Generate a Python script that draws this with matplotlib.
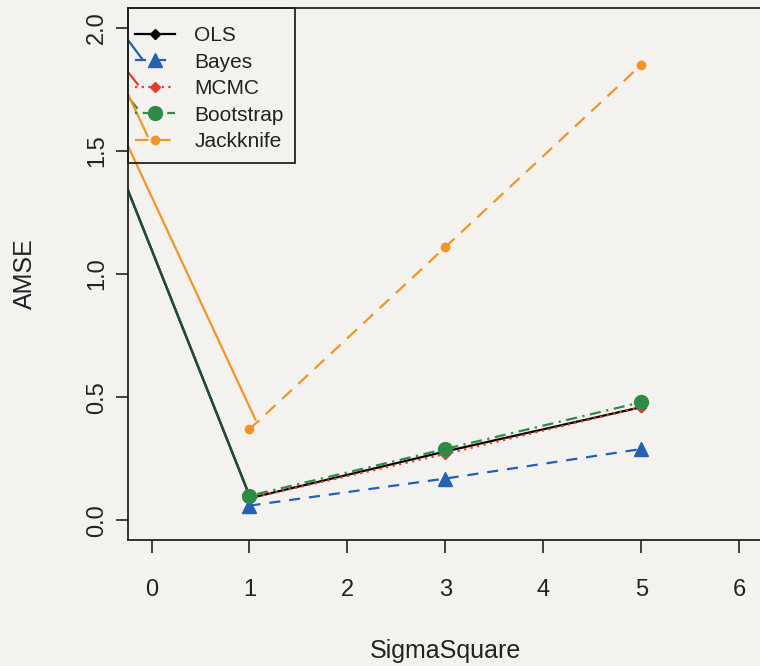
import matplotlib
matplotlib.use("Agg")
import matplotlib.pyplot as plt
from matplotlib.patches import Rectangle

plt.rcParams["font.family"] = ["Liberation Sans", "DejaVu Sans"]

# SigmaSquare values and AMSE per method
sigma_sq = [1, 3, 5]
ols = [0.09, 0.28, 0.46]
bayes = [0.06, 0.17, 0.29]
mcmc = [0.09, 0.27, 0.46]
bootstrap = [0.10, 0.29, 0.48]
jackknife = [0.37, 1.11, 1.85]

# solid lead-in segments coming in from the left edge of the panel
lead_x = [-0.24, 1.0]
lead_main_y = [1.34, 0.10]
lead_jack_x = [-0.24, 1.06]
lead_jack_y = [1.52, 0.41]

# short stubs near the top-left corner
stub_bayes_x = [-0.24, -0.09]
stub_bayes_y = [1.95, 1.87]
stub_mcmc_x = [-0.24, -0.14]
stub_mcmc_y = [1.82, 1.77]
stub_boot_x = [-0.24, -0.15]
stub_boot_y = [1.72, 1.675]
stub_jack_x = [-0.24, -0.04]
stub_jack_y = [1.73, 1.56]

x_ticks = [0, 1, 2, 3, 4, 5, 6]
y_ticks = [0.0, 0.5, 1.0, 1.5, 2.0]
y_tick_labels = ["0.0", "0.5", "1.0", "1.5", "2.0"]

bg = "#f4f2ee"
ink = "#222222"
c_ols = "black"
c_bayes = "#2460b4"
c_mcmc = "#e8392a"
c_boot = "#2e8b45"
c_jack = "#f29527"

fig = plt.figure(figsize=(7.6, 6.66), dpi=100, facecolor=bg)
ax = fig.add_axes([0.1684, 0.189, 0.8355, 0.799], facecolor=bg)

lw = 1.6

# lead-in lines
ax.plot(lead_x, lead_main_y, color=c_mcmc, lw=lw)
ax.plot(lead_x, lead_main_y, color=c_bayes, lw=lw)
ax.plot(lead_x, lead_main_y, color=c_boot, lw=lw)
ax.plot(lead_x, lead_main_y, color="#1f3a33", lw=lw, alpha=0.8)
ax.plot(lead_jack_x, lead_jack_y, color=c_jack, lw=lw)

ax.plot(stub_bayes_x, stub_bayes_y, color=c_bayes, lw=lw)
ax.plot(stub_mcmc_x, stub_mcmc_y, color=c_mcmc, lw=lw)
ax.plot(stub_boot_x, stub_boot_y, color=c_boot, lw=lw)
ax.plot(stub_jack_x, stub_jack_y, color=c_jack, lw=lw)

# main series
ax.plot(sigma_sq, ols, color=c_ols, lw=lw, ls="-", marker="D", ms=5, label="OLS")
ax.plot(sigma_sq, bayes, color=c_bayes, lw=lw, ls=(0, (5, 4)), marker="^", ms=10, label="Bayes")
ax.plot(sigma_sq, mcmc, color=c_mcmc, lw=lw, ls=(0, (1, 2)), marker="D", ms=5, label="MCMC")
ax.plot(sigma_sq, bootstrap, color=c_boot, lw=lw, ls=(0, (1, 2.5, 5, 2.5)), marker="o", ms=10, label="Bootstrap")
ax.plot(sigma_sq, jackknife, color=c_jack, lw=lw, ls=(0, (6, 4)), marker="o", ms=6, label="Jackknife")

ax.set_xlim(-0.24, 6.24)
ax.set_ylim(-0.08, 2.08)

ax.set_xticks(x_ticks)
ax.set_xticklabels([str(t) for t in x_ticks])
ax.set_yticks(y_ticks)
ax.set_yticklabels(y_tick_labels, rotation=90, va="center")
ax.tick_params(axis="both", direction="out", length=9, width=1.2, labelsize=17, colors=ink)
ax.tick_params(axis="x", pad=19)
ax.tick_params(axis="y", pad=5.5)

for s in ax.spines.values():
    s.set_linewidth(1.3)
    s.set_color(ink)

ax.set_xlabel("SigmaSquare", fontsize=18, color=ink, labelpad=27)
ax.set_ylabel("AMSE", fontsize=18, color=ink, labelpad=35)

# legend box drawn separately (transparent, like R's legend)
ax.add_patch(Rectangle((0.0, 0.709), 0.263, 0.291, transform=ax.transAxes,
                       fill=False, edgecolor=ink, lw=1.3, clip_on=False, zorder=5))
leg = ax.legend(loc="upper left", bbox_to_anchor=(0.011, 0.966), borderaxespad=0,
                fontsize=15, frameon=False, handlelength=1.9, handletextpad=0.95,
                labelspacing=0.36, borderpad=0)
for t in leg.get_texts():
    t.set_color(ink)

fig.savefig("out.png", dpi=100, facecolor=bg)
